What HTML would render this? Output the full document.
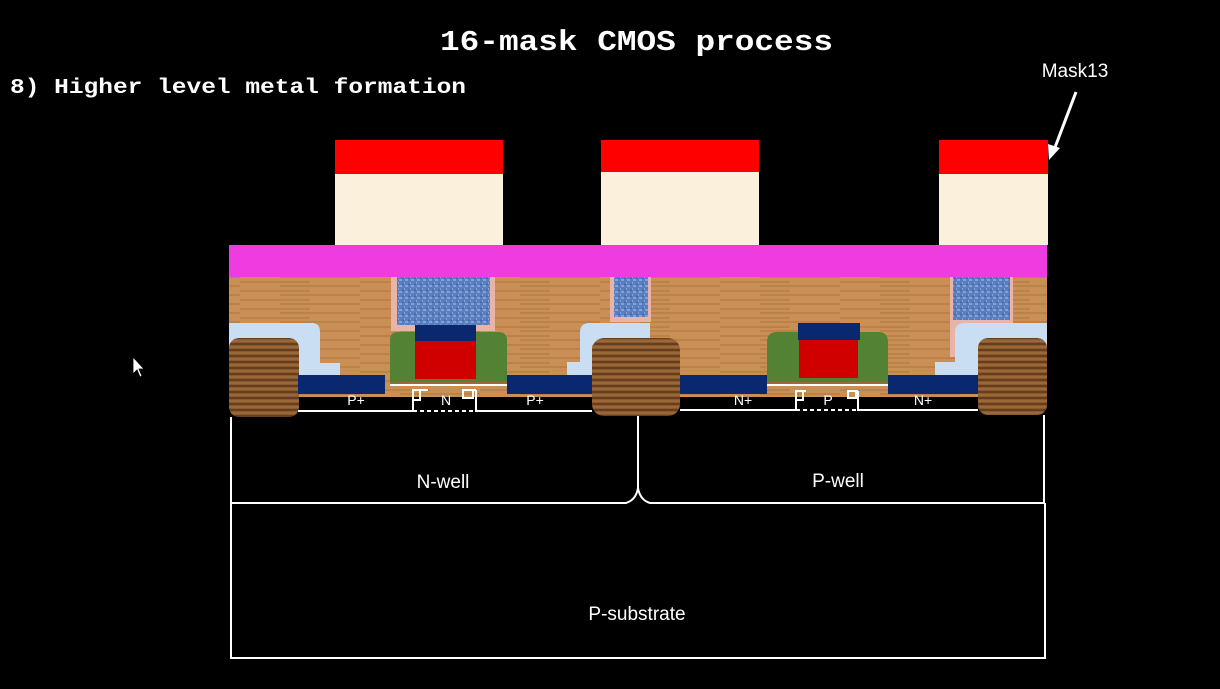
<!DOCTYPE html>
<html><head><meta charset="utf-8"><style>
html,body{margin:0;padding:0;background:#000;width:1220px;height:689px;overflow:hidden}
svg{display:block}
</style></head><body>
<svg width="1220" height="689" viewBox="0 0 1220 689">
<defs>
<pattern id="wood" width="120" height="9" patternUnits="userSpaceOnUse"><rect width="120" height="9" fill="#c98f55"/><path d="M0 3 H70 M40 7 H120" stroke="#ad7440" stroke-width="1"/></pattern>
<pattern id="dwood" width="40" height="6" patternUnits="userSpaceOnUse"><rect width="40" height="6" fill="#8a5a2e"/><path d="M0 2 H40" stroke="#5a3517" stroke-width="1.5"/><path d="M0 5 H40" stroke="#a8763f" stroke-width="1"/></pattern>
<pattern id="via" width="6" height="6" patternUnits="userSpaceOnUse"><rect width="6" height="6" fill="#5a7fc0"/><path d="M0 1 H3 M3 4 H6" stroke="#a9c3ea" stroke-width="1"/><path d="M1 0 V3" stroke="#2d4f8f" stroke-width="1"/></pattern>
</defs>
<text x="440" y="50" textLength="393" lengthAdjust="spacingAndGlyphs" font-family="Liberation Mono" font-weight="bold" font-size="29" fill="#fff">16-mask CMOS process</text>
<text x="10" y="93" textLength="456" lengthAdjust="spacingAndGlyphs" font-family="Liberation Mono" font-weight="bold" font-size="21" fill="#fff">8) Higher level metal formation</text>
<text x="1075" y="77" text-anchor="middle" font-family="Liberation Sans" font-size="19" fill="#fff">Mask13</text>
<g><line x1="1076" y1="92" x2="1054" y2="150" stroke="#fff" stroke-width="3"/><polygon points="1049,160 1048,144 1060,148" fill="#fff"/></g>
<g>
<rect x="335" y="174" width="168" height="71" fill="#fbf0dc"/><rect x="335" y="140" width="168" height="34" fill="#ff0000"/>
<rect x="601" y="172" width="158" height="73" fill="#fbf0dc"/><rect x="601" y="140" width="158" height="32" fill="#ff0000"/>
<rect x="939" y="174" width="109" height="71" fill="#fbf0dc"/><rect x="939" y="140" width="109" height="34" fill="#ff0000"/>
</g>
<rect x="229" y="277" width="818" height="120" fill="url(#wood)"/>
<rect x="229" y="245" width="818" height="32" fill="#ee3ce0"/>
<g>
<rect x="391" y="277" width="104" height="54" fill="#e8b4a8"/><rect x="397" y="277" width="93" height="48" fill="url(#via)"/>
<rect x="610" y="277" width="41" height="45" fill="#e8b4a8"/><rect x="614" y="277" width="34" height="40" fill="url(#via)"/>
<rect x="950" y="277" width="63" height="80" fill="#e8b4a8"/><rect x="953" y="277" width="57" height="43" fill="url(#via)"/>
</g>
<g fill="#c9def2">
<path d="M229 323 H312 Q320 323 320 332 V363 H340 V375 H298 V345 H229 Z"/>
<path d="M567 375 V362 H580 V332 Q580 323 590 323 H650 V345 H592 V375 Z"/>
<path d="M935 375 V362 H955 V332 Q955 323 965 323 H1047 V345 H978 V375 Z"/>
</g>
<g fill="url(#dwood)">
<rect x="229" y="338" width="70" height="79" rx="10"/>
<rect x="592" y="338" width="88" height="78" rx="12"/>
<rect x="978" y="338" width="69" height="77" rx="10"/>
</g>
<g>
<rect x="390" y="380" width="117" height="4" fill="#9b6a3a"/>
<path d="M390 382 V340 Q390 332 398 332 H498 Q507 332 507 340 V382 Z" fill="#548235"/>
<rect x="415" y="341" width="61" height="38" fill="#d10000"/><rect x="415" y="325" width="61" height="16" fill="#0a2870"/>
<rect x="767" y="380" width="121" height="4" fill="#9b6a3a"/>
<path d="M767 382 V342 Q767 332 777 332 H878 Q888 332 888 342 V382 Z" fill="#548235"/>
<rect x="799" y="340" width="59" height="38" fill="#d10000"/><rect x="798" y="323" width="62" height="17" fill="#0a2870"/>
</g>
<g fill="#0a2870">
<rect x="298" y="375" width="87" height="19"/><rect x="507" y="375" width="85" height="19"/>
<rect x="680" y="375" width="87" height="19"/><rect x="888" y="375" width="90" height="19"/>
</g>
<g stroke="#fff" stroke-width="2" fill="none">
<path d="M298 411 H413 V390 H428 M413 400 H420 V390"/>
<path d="M390 385 H507"/><path d="M767 385 H888"/>
<path d="M476 390 H463 V398 H473 V390 M476 390 V411 H592"/>
<path d="M680 410 H796 V391 H806 M796 400 H803 V391"/>
<path d="M858 391 H848 V398 H856 V391 M858 391 V410 H978"/>
<path d="M413 411 H476 M796 410 H858" stroke-dasharray="4 3"/>
<path d="M231 417 V503 H626 Q636 500 638 488 V416 M638 488 Q640 500 650 503 H1044 V415"/>
<path d="M231 503 V658 H1045 V503"/>
</g>
<g fill="#fff" font-family="Liberation Sans" font-size="14" text-anchor="middle">
<text x="356" y="405">P+</text><text x="446" y="405">N</text><text x="535" y="405">P+</text>
<text x="743" y="405">N+</text><text x="828" y="405">P</text><text x="923" y="405">N+</text>
</g>
<text x="443" y="488" text-anchor="middle" font-family="Liberation Sans" font-size="19" fill="#fff">N-well</text>
<text x="838" y="487" text-anchor="middle" font-family="Liberation Sans" font-size="19" fill="#fff">P-well</text>
<text x="637" y="620" text-anchor="middle" font-family="Liberation Sans" font-size="19" fill="#fff">P-substrate</text>
<path d="M133 357 V374 L137 370 L140 377 L142 376 L139 369 L144 369 Z" fill="#fff" stroke="#000" stroke-width="0.8"/>
</svg>
</body></html>
